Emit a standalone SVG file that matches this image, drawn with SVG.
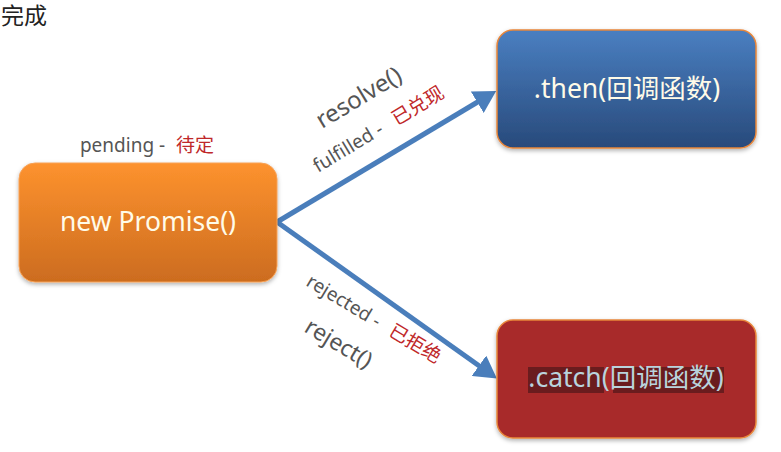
<svg xmlns="http://www.w3.org/2000/svg" width="781" height="452" viewBox="0 0 781 452">
<defs>
<linearGradient id="gOrange" x1="0" y1="0" x2="0" y2="1"><stop offset="0" stop-color="#fd922e"/><stop offset="1" stop-color="#cc6c1f"/></linearGradient>
<linearGradient id="gBlue" x1="0" y1="0" x2="0" y2="1"><stop offset="0" stop-color="#4a7fc1"/><stop offset="1" stop-color="#284a7b"/></linearGradient>
<marker id="arr" markerWidth="5" markerHeight="5" refX="3.2" refY="2.5" orient="auto" markerUnits="strokeWidth"><path d="M0,0 L4.4,2.5 L0,5 Z" fill="#4a7ebb"/></marker>
<filter id="sh" x="-10%" y="-10%" width="120%" height="130%"><feDropShadow dx="0" dy="2" stdDeviation="2" flood-color="#000" flood-opacity="0.3"/></filter>
</defs>
<style>
text{font-family:"Noto Sans","Noto Sans CJK SC",sans-serif}
.node{font-size:26.5px;text-anchor:middle}
.lbl{fill:#555}
.red{fill:#c0282a}
</style>
<text x="1" y="24" font-size="23" fill="#222">完成</text>
<g id="connectors" stroke="#4a7ebb" stroke-width="5" fill="none">
<path d="M277,222 L491,94" marker-end="url(#arr)"/>
<path d="M277,222 L492,375" marker-end="url(#arr)"/>
</g>
<g id="pending">
<text x="147" y="152" font-size="19" text-anchor="middle"><tspan class="lbl">pending - </tspan><tspan class="red" dx="6">待定</tspan></text>
</g>
<g id="promise">
<rect x="19" y="163" width="258" height="119" rx="16" fill="url(#gOrange)" stroke="#f7a257" stroke-width="1" filter="url(#sh)"/>
<text class="node" x="148" y="231" fill="#fffbe8">new Promise()</text>
</g>
<g id="then">
<rect x="497" y="30" width="259" height="118" rx="16" fill="url(#gBlue)" stroke="#e8863a" stroke-width="1.5" filter="url(#sh)"/>
<text class="node" x="627" y="98" fill="#fffbe8">.then(回调函数)</text>
</g>
<g id="catch">
<rect x="497" y="320" width="259" height="118" rx="16" fill="#a8292a" stroke="#e8863a" stroke-width="1.5" filter="url(#sh)"/>
<rect x="528" y="367" width="76" height="26" fill="#6a1c1e"/>
<rect x="613" y="367" width="111" height="26" fill="#6a1c1e"/>
<text class="node" x="626" y="387" fill="#b9d3dc">.catch(回调函数)</text>
</g>
<g id="resolve-labels">
<text transform="translate(322,129) rotate(-31)" font-size="24" class="lbl">resolve()</text>
<text transform="translate(318,173) rotate(-31)" font-size="19"><tspan class="lbl">fulfilled - </tspan><tspan class="red" dx="9">已兑现</tspan></text>
</g>
<g id="reject-labels">
<text transform="translate(305,285) rotate(31)" font-size="19"><tspan class="lbl">rejected - </tspan><tspan class="red" dx="8">已拒绝</tspan></text>
<text transform="translate(303,331) rotate(31)" font-size="23" class="lbl">reject()</text>
</g>
</svg>
